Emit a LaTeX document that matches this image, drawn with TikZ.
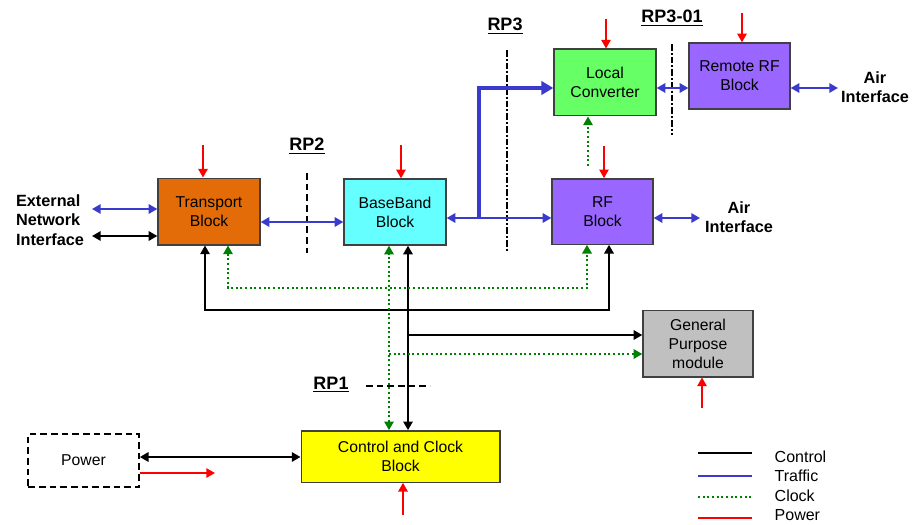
\documentclass[tikz,border=0pt]{standalone}
\usepackage{fontspec}
\setmainfont{Liberation Sans}
\usetikzlibrary{arrows.meta}
\definecolor{trcol}{RGB}{227,108,9}
\definecolor{bbcol}{RGB}{102,255,255}
\definecolor{rfcol}{RGB}{153,102,255}
\definecolor{lccol}{RGB}{102,255,102}
\definecolor{gpcol}{RGB}{192,192,192}
\definecolor{cccol}{RGB}{255,255,0}
\definecolor{trafcol}{RGB}{58,58,204}
\definecolor{clkcol}{RGB}{0,128,0}
\definecolor{pwcol}{RGB}{255,0,0}
\definecolor{edgecol}{RGB}{64,64,64}
\begin{document}
\begin{tikzpicture}[x=0.75pt,y=-0.75pt,
  >={Triangle[length=6.5pt,width=7pt]},
  blk/.style={draw=edgecol,line width=1pt,rectangle,align=center,font=\fontsize{11.8pt}{14.3pt}\selectfont,inner sep=0pt},
  ctl/.style={draw=black,line width=1.5pt},
  traffic/.style={draw=trafcol,line width=1.5pt},
  bigtraffic/.style={draw=trafcol,line width=3.2pt,>={Triangle[length=9pt,width=10pt]}},
  clk/.style={draw=clkcol,line width=1.5pt,dash pattern=on 1.5pt off 2pt},
  pw/.style={draw=pwcol,line width=1.3pt,->},
  rpline/.style={draw=black,line width=1.5pt,dash pattern=on 5pt off 3pt},
  rpdd/.style={draw=black,line width=1.5pt,dash pattern=on 5pt off 1.5pt on 1.5pt off 1.5pt},
  rplabel/.style={font=\fontsize{13.5pt}{15pt}\selectfont\bfseries},
  blabel/.style={font=\fontsize{12.2pt}{14.6pt}\selectfont\bfseries,align=center},
  legtext/.style={font=\fontsize{12pt}{14pt}\selectfont,anchor=west}
]
\useasboundingbox (0,0) rectangle (916,524);

% blocks
\node[blk,fill=trcol,minimum width=76.5pt,minimum height=50pt] (tr) at (209,211.5) {Transport\\Block};
\node[blk,fill=bbcol,minimum width=76.5pt,minimum height=49.5pt] (bb) at (395,212) {BaseBand\\Block};
\node[blk,fill=rfcol,minimum width=75.75pt,minimum height=49pt] (rf) at (602.5,211.5) {RF\\Block};
\node[blk,fill=lccol,minimum width=76.5pt,minimum height=50pt] (lc) at (605,82.5) {Local\\Converter};
\node[blk,fill=rfcol,minimum width=75.75pt,minimum height=49.5pt] (rrf) at (739.5,76) {Remote RF\\Block};
\node[blk,fill=gpcol,minimum width=82.5pt,minimum height=50pt] (gp) at (698,343.5) {General\\Purpose\\module};
\node[blk,fill=cccol,minimum width=149pt,minimum height=38.5pt] (cc) at (400.5,456.5) {Control and Clock\\Block};
\node[blk,draw=black,line width=1.5pt,dash pattern=on 5pt off 3pt,minimum width=83pt,minimum height=40pt] (pwb) at (83.5,460.5) {Power};

% labels
\node[blabel,align=left] (ext) at (50,220) {External\\Network\\Interface};
\node[blabel] (air1) at (875,87) {Air\\Interface};
\node[blabel] (air2) at (739,217) {Air\\Interface};
\node[rplabel] (rp2) at (307,146) {\underline{RP2}};
\node[rplabel] (rp3) at (505,26) {\underline{RP3}};
\node[rplabel] (rp301) at (672,18) {\underline{RP3-01}};
\node[rplabel] (rp1) at (331,385) {\underline{RP1}};

% reference lines
\coordinate (rp2a) at (307,173); \coordinate (rp2b) at (307,253);
\draw[rpline] (rp2a) -- (rp2b);
\coordinate (rp3a) at (507,50); \coordinate (rp3b) at (507,252);
\draw[rpdd] (rp3a) -- (rp3b);
\coordinate (rp301a) at (672,44); \coordinate (rp301b) at (672,135);
\draw[rpdd] (rp301a) -- (rp301b);
\coordinate (rp1a) at (366,386); \coordinate (rp1b) at (430,386);
\draw[rpline] (rp1a) -- (rp1b);

% power arrows
\coordinate (ptr) at (203,145); \draw[pw] (ptr) -- (ptr |- tr.north);
\coordinate (pbb) at (401,145); \draw[pw] (pbb) -- (pbb |- bb.north);
\coordinate (prf) at (604,146); \draw[pw] (prf) -- (prf |- rf.north);
\coordinate (plc) at (606,19);  \draw[pw] (plc) -- (plc |- lc.north);
\coordinate (prrf) at (742,13); \draw[pw] (prrf) -- (prrf |- rrf.north);
\coordinate (pgp) at (702,408); \draw[pw] (pgp) -- (pgp |- gp.south);
\coordinate (pcc) at (403,515); \draw[pw] (pcc) -- (pcc |- cc.south);
\coordinate (pout) at (215,473); \draw[pw] (pwb.east |- pout) -- (pout);

% external interface
\coordinate (ext1) at (92,209); \draw[traffic,<->] (ext1) -- (ext1 -| tr.west);
\coordinate (ext2) at (92,236); \draw[ctl,<->] (ext2) -- (ext2 -| tr.west);

% traffic
\coordinate (t1) at (0,222);
\draw[traffic,<->] (tr.east |- t1) -- (bb.west |- t1);
\coordinate (t2) at (0,218);
\draw[traffic,<->] (bb.east |- t2) -- (rf.west |- t2);
\coordinate (j) at (479,218); \coordinate (t3) at (479,88);
\draw[bigtraffic,->] (j) -- (t3) -- (lc.west |- t3);
\draw[traffic,<->] (lc.east |- t3) -- (rrf.west |- t3);
\coordinate (a1) at (838,88); \draw[traffic,<->] (rrf.east |- a1) -- (a1);
\coordinate (a2) at (700,218); \draw[traffic,<->] (rf.east |- a2) -- (a2);

% clock RF -> LC
\coordinate (cl) at (588,166); \draw[clk,->] (cl) -- (cl |- lc.south);

% control bus
\coordinate (cx1) at (205,310); \coordinate (cx2) at (609,310);
\draw[ctl,<->] (tr.south -| cx1) -- (cx1) -- (cx2) -- (rf.south -| cx2);
\coordinate (cv) at (408,0);
\draw[ctl,<->] (cc.north -| cv) -- (bb.south -| cv);
\coordinate (cg) at (408,335);
\draw[ctl,->] (cg) -- (gp.west |- cg);

% clock bus
\coordinate (kx1) at (228,288); \coordinate (kx2) at (587,288);
\draw[clk,<->] (tr.south -| kx1) -- (kx1) -- (kx2) -- (rf.south -| kx2);
\coordinate (kv) at (389,0);
\draw[clk,<->] (cc.north -| kv) -- (bb.south -| kv);
\coordinate (kg) at (389,354);
\draw[clk,->] (kg) -- (gp.west |- kg);

% power <-> control
\coordinate (pc) at (0,457);
\draw[ctl,<->] (pwb.east |- pc) -- (cc.west |- pc);

% legend
\coordinate (l1a) at (698,453); \coordinate (l1b) at (752,453);
\draw[ctl] (l1a) -- (l1b);
\coordinate (l2a) at (698,476); \coordinate (l2b) at (752,476);
\draw[traffic] (l2a) -- (l2b);
\coordinate (l3a) at (698,497); \coordinate (l3b) at (752,497);
\draw[clk] (l3a) -- (l3b);
\coordinate (l4a) at (698,518); \coordinate (l4b) at (752,518);
\draw[draw=pwcol,line width=1.5pt] (l4a) -- (l4b);
\node[legtext] (lg1) at (770,457) {Control};
\node[legtext] (lg2) at (770,476) {Traffic};
\node[legtext] (lg3) at (770,496) {Clock};
\node[legtext] (lg4) at (770,515) {Power};
\end{tikzpicture}
\end{document}
